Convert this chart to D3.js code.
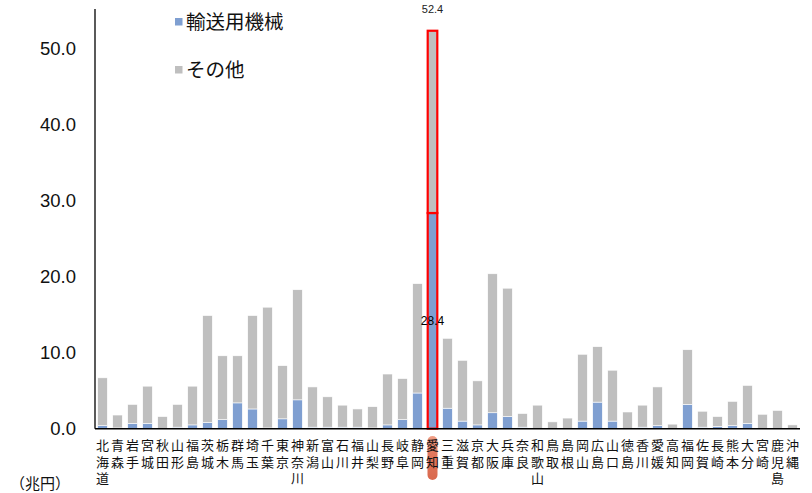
<!DOCTYPE html>
<html>
<head>
<meta charset="utf-8">
<script src="https://cdn.jsdelivr.net/npm/d3@7"></script>
<style>
    body { margin: 0; background: #fff; }
    svg { display: block; font-family: "Liberation Sans", Arial, "Noto Sans CJK JP", sans-serif; }
    .jp { font-family: "Noto Sans CJK JP", sans-serif; }
</style>
</head>
<body>
<div id="chart"></div>
<script>
// 都道府県
const prefectures = ["北海道", "青森", "岩手", "宮城", "秋田", "山形", "福島", "茨城", "栃木", "群馬",
    "埼玉", "千葉", "東京", "神奈川", "新潟", "富山", "石川", "福井", "山梨", "長野",
    "岐阜", "静岡", "愛知", "三重", "滋賀", "京都", "大阪", "兵庫", "奈良", "和歌山",
    "鳥取", "島根", "岡山", "広島", "山口", "徳島", "香川", "愛媛", "高知", "福岡",
    "佐賀", "長崎", "熊本", "大分", "宮崎", "鹿児島", "沖縄"];

// 輸送用機械 (兆円)
const transport = [0.4, 0.1, 0.7, 0.7, 0.05, 0.2, 0.5, 0.8, 1.2, 3.4,
    2.6, 0.1, 1.3, 3.8, 0.2, 0.2, 0.2, 0.2, 0.1, 0.5,
    1.2, 4.7, 28.4, 2.7, 1.0, 0.5, 2.1, 1.6, 0.2, 0.05,
    0.05, 0.05, 1.0, 3.5, 1.0, 0.05, 0.2, 0.4, 0.05, 3.2,
    0.2, 0.3, 0.4, 0.7, 0.05, 0.05, 0.05];

// その他 (兆円)
const others = [6.3, 1.7, 2.5, 4.9, 1.55, 3.0, 5.1, 14.1, 8.4, 6.2,
    12.3, 15.9, 7.0, 14.5, 5.3, 4.0, 2.9, 2.4, 2.8, 6.7,
    5.4, 14.4, 24.0, 9.2, 8.0, 5.8, 18.3, 16.9, 1.8, 3.05,
    0.85, 1.35, 8.8, 7.3, 6.7, 2.15, 2.9, 5.1, 0.55, 7.2,
    2.1, 1.3, 3.2, 5.0, 1.85, 2.35, 0.45];

const yTicks = [0, 10, 20, 30, 40, 50];
const highlight = "愛知";

const width = 812, height = 493;
const margin = { top: 11, right: 12, bottom: 64, left: 95 };

const blue = "#7f9fd1", gray = "#bfbfbf";

const data = prefectures.map((p, i) => ({ name: p, transport: transport[i], other: others[i] }));
const stack = d3.stack().keys(["transport", "other"])(data);

const x = d3.scaleBand()
    .domain(prefectures)
    .range([margin.left, width - margin.right])
    .paddingInner(0.36)
    .paddingOuter(0.18);

const y = d3.scaleLinear()
    .domain([0, 55])
    .range([height - margin.bottom - 0.3, margin.top]);

const svg = d3.select("#chart").append("svg")
    .attr("width", width)
    .attr("height", height);

// highlight pill behind label
const grad = svg.append("defs").append("linearGradient")
    .attr("id", "pill").attr("x1", 0).attr("y1", 0).attr("x2", 0).attr("y2", 1);
grad.append("stop").attr("offset", "0%").attr("stop-color", "#f0a088");
grad.append("stop").attr("offset", "40%").attr("stop-color", "#e2775c");
grad.append("stop").attr("offset", "100%").attr("stop-color", "#d9694e");

svg.append("rect")
    .attr("x", x(highlight) + x.bandwidth() / 2 - 5)
    .attr("y", height - margin.bottom + 7)
    .attr("width", 10)
    .attr("height", 44)
    .attr("rx", 5)
    .attr("fill", "url(#pill)");

// bars
const colors = { transport: blue, other: gray };
svg.append("g")
    .selectAll("g")
    .data(stack)
    .join("g")
    .attr("fill", d => colors[d.key])
    .selectAll("rect")
    .data(d => d)
    .join("rect")
    .attr("x", d => x(d.data.name))
    .attr("y", d => y(d[1]))
    .attr("width", x.bandwidth())
    .attr("height", d => y(d[0]) - y(d[1]))
    .attr("stroke", d => d.data.name === highlight ? "#ff0000" : "#ffffff")
    .attr("stroke-width", d => d.data.name === highlight ? 2.2 : 0.6);

// axes
svg.append("line")
    .attr("x1", margin.left).attr("x2", margin.left)
    .attr("y1", margin.top - 2).attr("y2", y(0))
    .attr("stroke", "#000").attr("stroke-width", 1.3);

svg.append("line")
    .attr("x1", margin.left).attr("x2", width - margin.right)
    .attr("y1", y(0)).attr("y2", y(0))
    .attr("stroke", "#000").attr("stroke-width", 1.5);

svg.append("g")
    .selectAll("text")
    .data(yTicks)
    .join("text")
    .attr("x", 76)
    .attr("y", d => y(d))
    .attr("dy", "0.35em")
    .attr("text-anchor", "end")
    .style("font-size", "18.5px")
    .attr("fill", "#111")
    .text(d => d.toFixed(1));

// vertical category labels
const labels = svg.append("g").attr("class", "jp")
    .selectAll("text")
    .data(prefectures)
    .join("text")
    .attr("x", d => x(d) + x.bandwidth() / 2)
    .attr("y", height - margin.bottom + 21)
    .attr("text-anchor", "middle")
    .style("font-size", "13px")
    .attr("fill", "#111");

labels.selectAll("tspan")
    .data(d => d.split(""))
    .join("tspan")
    .attr("x", function () { return d3.select(this.parentNode).attr("x"); })
    .attr("dy", (d, i) => i === 0 ? 0 : 16.5)
    .text(d => d);

// value labels for highlight
const hl = data.find(d => d.name === highlight);
svg.append("text")
    .attr("x", x(highlight) + x.bandwidth() / 2)
    .attr("y", 13)
    .attr("text-anchor", "middle")
    .style("font-size", "11px")
    .attr("fill", "#222")
    .text((hl.transport + hl.other).toFixed(1));

svg.append("text")
    .attr("x", x(highlight) + x.bandwidth() / 2)
    .attr("y", (y(0) + y(hl.transport)) / 2)
    .attr("dy", "0.35em")
    .attr("text-anchor", "middle")
    .style("font-size", "12px")
    .attr("fill", "#000")
    .text(hl.transport.toFixed(1));

// legend
const legend = svg.append("g").attr("class", "jp");
[["輸送用機械", blue, 22], ["その他", gray, 70]].forEach(([label, color, ly]) => {
    legend.append("rect")
        .attr("x", 175).attr("y", ly - 4)
        .attr("width", 7.5).attr("height", 7.5)
        .attr("fill", color);
    legend.append("text")
        .attr("x", 186).attr("y", ly)
        .attr("dy", "0.35em")
        .style("font-size", "19.5px")
        .attr("fill", "#111")
        .text(label);
});

// unit
svg.append("text")
    .attr("class", "jp")
    .attr("x", 10)
    .attr("y", 484)
    .attr("dy", "0.35em")
    .style("font-size", "15px")
    .attr("fill", "#111")
    .text("（兆円）");
</script>
</body>
</html>
